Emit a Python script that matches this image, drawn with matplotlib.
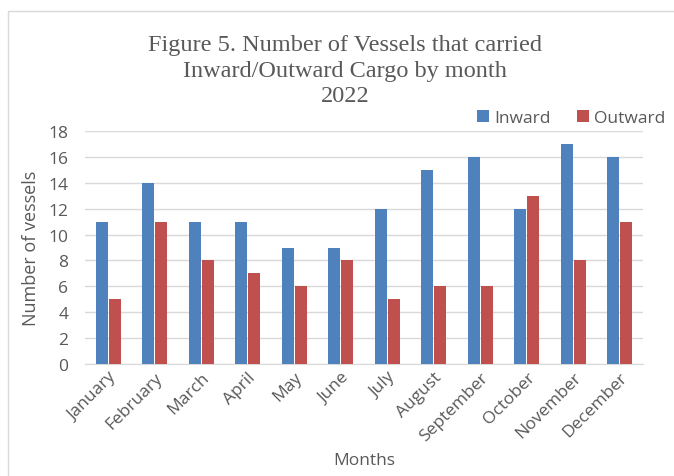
import matplotlib.pyplot as plt
import numpy as np
from matplotlib.patches import Rectangle

months = ['January', 'February', 'March', 'April', 'May', 'June', 'July',
          'August', 'September', 'October', 'November', 'December']
inward = [11, 14, 11, 11, 9, 9, 12, 15, 16, 12, 17, 16]
outward = [5, 11, 8, 7, 6, 8, 5, 6, 6, 13, 8, 11]

txt = '#595959'
fig = plt.figure(figsize=(6.74, 4.77), dpi=100)
# outer chart border
fig.patches.append(Rectangle((8 / 674, -0.01), 1.0, 1 - 12 / 477 + 0.01,
                             transform=fig.transFigure, fill=False,
                             edgecolor='#D9D9D9', linewidth=1))
ax = fig.add_axes([85 / 674, 1 - 365 / 477, (643 - 85) / 674, (365 - 132) / 477])

x = np.arange(len(months))
w = 0.26
ax.bar(x - w / 2 - 0.01, inward, w, color='#4F81BD', label='Inward', zorder=3)
ax.bar(x + w / 2 + 0.01, outward, w, color='#C0504D', label='Outward', zorder=3)

ax.set_xlim(-0.5, len(months) - 0.5)
ax.set_ylim(0, 18)
ax.set_yticks(range(0, 19, 2))
ax.set_xticks(x)
ax.set_xticklabels(months, rotation=45, ha='right', rotation_mode='anchor')
ax.tick_params(length=0, colors=txt, labelsize=12.5)
ax.tick_params(axis='y', pad=12)
ax.grid(axis='y', color='#D9D9D9', linewidth=1, zorder=0)
for s in ['top', 'right', 'left']:
    ax.spines[s].set_visible(False)
ax.spines['bottom'].set_color('#D9D9D9')

for lab in ax.get_xticklabels() + ax.get_yticklabels():
    lab.set_family('Open Sans')
ax.set_ylabel('Number of vessels', fontsize=13, color=txt, family='Open Sans', labelpad=6)
ax.set_xlabel('Months', fontsize=12.5, color=txt, family='Open Sans', labelpad=6)

fig.text(345 / 674, 1 - 71 / 477,
         'Figure 5. Number of Vessels that carried\nInward/Outward Cargo by month\n2022',
         ha='center', va='center', fontsize=17.5, color=txt, family='Liberation Serif',
         linespacing=1.3)

ax.legend(loc='center right', bbox_to_anchor=(1.062, (365 - 119) / 233), ncol=2,
          frameon=False, handlelength=0.7, handleheight=0.7, handletextpad=0.3,
          columnspacing=1.5, labelcolor=txt, prop={'family': 'Open Sans', 'size': 12.5},
          borderpad=0.2)

fig.savefig('out.png', dpi=100)
